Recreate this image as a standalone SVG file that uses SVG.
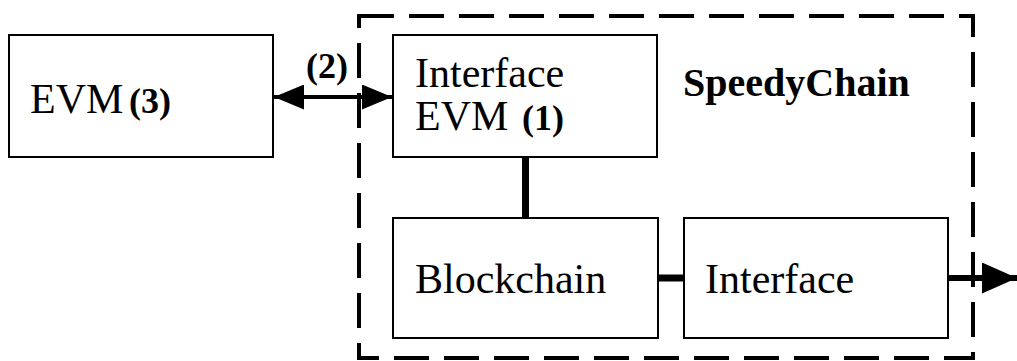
<svg xmlns="http://www.w3.org/2000/svg" width="1017" height="361" viewBox="0 0 1017 361">
<style>
.box{fill:#fff;stroke:#000;stroke-width:2}
.t{font-family:"Liberation Serif","Times New Roman",serif;font-size:42px;fill:#000}
.b{font-family:"Liberation Serif","Times New Roman",serif;font-size:36px;font-weight:700;fill:#000}
.title{font-size:40px}
.c{stroke:#000;fill:none}
</style>
<defs>
<marker id="ah" markerUnits="userSpaceOnUse" viewBox="0 0 30 25" refX="30" refY="12.5" markerWidth="30" markerHeight="25" orient="auto-start-reverse">
<path d="M0,0 L30,12.5 L0,25 Z" fill="#000"/>
</marker>
<marker id="ah2" markerUnits="userSpaceOnUse" viewBox="0 0 35 31" refX="35" refY="15.5" markerWidth="35" markerHeight="31" orient="auto">
<path d="M0,0 L35,15.5 L0,31 Z" fill="#000"/>
</marker>
</defs>
<g id="container">
<rect x="359" y="16" width="614" height="342" fill="none" stroke="#000" stroke-width="4" stroke-dasharray="35 15"/>
<text class="b title" x="683" y="96">SpeedyChain</text>
</g>
<g id="connectors">
<line class="c" x1="274" y1="97" x2="392" y2="97" stroke-width="4" marker-start="url(#ah)" marker-end="url(#ah)"/>
<line class="c" x1="525.5" y1="157" x2="525.5" y2="218" stroke-width="7"/>
<line class="c" x1="658" y1="278" x2="684" y2="278" stroke-width="7"/>
<line class="c" x1="948" y1="278" x2="1017" y2="278" stroke-width="6" marker-end="url(#ah2)"/>
<text class="b" x="306" y="78">(2)</text>
</g>
<g id="evm">
<rect class="box" x="9" y="35" width="264" height="122"/>
<text class="t" x="30" y="113">EVM</text>
<text class="b" x="129" y="113">(3)</text>
</g>
<g id="interface-evm">
<rect class="box" x="393" y="35" width="264" height="122"/>
<text class="t" x="415" y="87">Interface</text>
<text class="t" x="415" y="130">EVM</text>
<text class="b" x="522" y="130">(1)</text>
</g>
<g id="blockchain">
<rect class="box" x="393" y="218" width="265" height="120"/>
<text class="t" x="415" y="293">Blockchain</text>
</g>
<g id="interface">
<rect class="box" x="684" y="218" width="264" height="120"/>
<text class="t" x="705" y="293">Interface</text>
</g>
</svg>
